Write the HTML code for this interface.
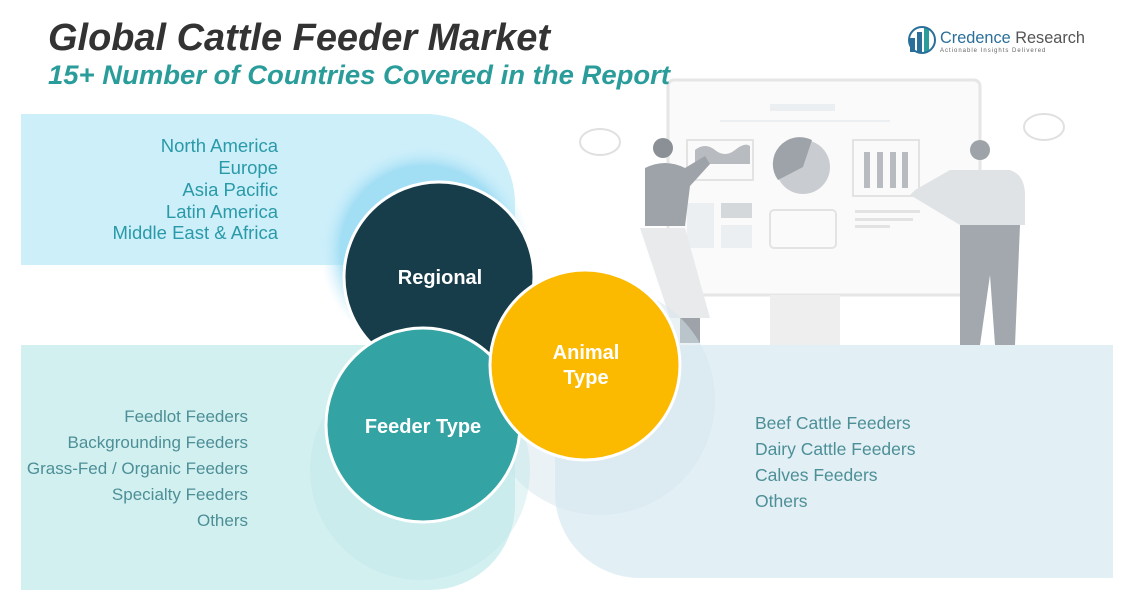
<!DOCTYPE html>
<html><head><meta charset="utf-8"><style>
html,body{margin:0;padding:0;background:#fff;}
body{width:1147px;height:601px;overflow:hidden;font-family:"Liberation Sans",sans-serif;}
</style></head><body>
<svg width="1147" height="601" viewBox="0 0 1147 601" xmlns="http://www.w3.org/2000/svg" font-family="Liberation Sans, sans-serif">
<defs>
<radialGradient id="g1" cx="0.5" cy="0.5" r="0.5"><stop offset="0.8" stop-color="#8fd6f2"/><stop offset="1" stop-color="#cdeffa" stop-opacity="0"/></radialGradient>
</defs>
<rect x="668" y="80" width="312" height="215" rx="6" fill="#fafafa" stroke="#e6e6e6" stroke-width="3"/>
<rect x="770" y="104" width="65" height="7" fill="#eceff1"/>
<rect x="720" y="120" width="170" height="2" fill="#eceff1"/>
<rect x="687" y="140" width="66" height="40" fill="none" stroke="#e3e3e3" stroke-width="2"/>
<path d="M695 150 q10-8 20 0 t20 0 t15 -4 v18 h-55z" fill="#b8bcc0"/>
<circle cx="803" cy="167" r="27" fill="#c9cdd1"/>
<path d="M803 167 L812 140 A27 27 0 0 0 778 180 Z" fill="#9da3a8"/>
<rect x="687" y="203" width="27" height="45" fill="#eceff1"/><rect x="721" y="203" width="31" height="15" fill="#d5d8db"/><rect x="721" y="225" width="31" height="23" fill="#eceff1"/>
<rect x="770" y="210" width="66" height="38" rx="4" fill="none" stroke="#e3e3e3" stroke-width="2"/>
<rect x="853" y="140" width="66" height="56" fill="none" stroke="#e3e3e3" stroke-width="2"/>
<rect x="864" y="152" width="6" height="36" fill="#b8bcc0"/><rect x="877" y="152" width="6" height="36" fill="#b8bcc0"/><rect x="890" y="152" width="6" height="36" fill="#b8bcc0"/><rect x="902" y="152" width="6" height="36" fill="#b8bcc0"/>
<rect x="855" y="210" width="65" height="3" fill="#e3e3e3"/><rect x="855" y="218" width="58" height="3" fill="#e3e3e3"/><rect x="855" y="225" width="35" height="3" fill="#e3e3e3"/>
<rect x="770" y="295" width="70" height="50" fill="#eeeeee"/>
<ellipse cx="600" cy="142" rx="20" ry="13" fill="none" stroke="#e0e0e0" stroke-width="2"/>
<ellipse cx="1044" cy="127" rx="20" ry="13" fill="none" stroke="#e0e0e0" stroke-width="2"/>
<circle cx="663" cy="148" r="10" fill="#8a9096"/>
<path d="M645 168 q20-10 40 0 l20-12 l5 8 l-20 22 l-5 40 h-40 z" fill="#9da3a8"/>
<path d="M640 228 h45 l25 90 h-40 z" fill="#e8eaeb"/>
<rect x="680" y="318" width="20" height="25" fill="#9da3a8"/>
<circle cx="980" cy="150" r="10" fill="#9da3a8"/>
<path d="M950 170 h60 q15 5 15 25 v30 h-65 l-50-30 l5-5 z" fill="#e0e3e5"/>
<path d="M960 225 h60 l-5 120 h-20 l-5-70 l-10 70 h-20 z" fill="#a2a8ad"/>
<path d="M21 114 H430 A90 90 0 0 1 515 200 V265 H21 Z" fill="#cdeffa"/>
<circle cx="425" cy="250" r="105" fill="url(#g1)" opacity="0.7"/>
<path d="M21 345 H515 V505 A85 85 0 0 1 430 590 H21 Z" fill="#d3f0f1"/>
<path d="M555 345 H1113 V578 H640 A85 85 0 0 1 555 493 Z" fill="#e2eff5"/>
<circle cx="600" cy="400" r="115" fill="#d6e6ee" opacity="0.5"/>
<circle cx="420" cy="470" r="110" fill="#bfe6e8" opacity="0.4"/>
<circle cx="439" cy="277" r="95" fill="#183d4a" stroke="#fff" stroke-width="3"/>
<circle cx="423" cy="425" r="97" fill="#33a3a3" stroke="#fff" stroke-width="3"/>
<circle cx="585" cy="365" r="95" fill="#fbb900" stroke="#fff" stroke-width="3"/>
<g fill="#fff" font-weight="bold" font-size="20" text-anchor="middle">
<text x="440" y="284">Regional</text>
<text x="423" y="433">Feeder Type</text>
<text x="586" y="359">Animal</text>
<text x="586" y="384">Type</text>
</g>
<g fill="#2a9aa8" font-size="18.5" text-anchor="end">
<text x="278" y="152">North America</text>
<text x="278" y="174">Europe</text>
<text x="278" y="196">Asia Pacific</text>
<text x="278" y="218">Latin America</text>
<text x="278" y="239">Middle East &amp; Africa</text>
</g>
<g fill="#4c8f96" font-size="17" text-anchor="end">
<text x="248" y="422">Feedlot Feeders</text>
<text x="248" y="448">Backgrounding Feeders</text>
<text x="248" y="474">Grass-Fed / Organic Feeders</text>
<text x="248" y="500">Specialty Feeders</text>
<text x="248" y="526">Others</text>
</g>
<g fill="#4c8f96" font-size="17.5">
<text x="755" y="429">Beef Cattle Feeders</text>
<text x="755" y="455">Dairy Cattle Feeders</text>
<text x="755" y="481">Calves Feeders</text>
<text x="755" y="507">Others</text>
</g>
<text x="48" y="50" font-size="38" font-weight="bold" font-style="italic" fill="#333" textLength="502" lengthAdjust="spacingAndGlyphs">Global Cattle Feeder Market</text>
<text x="48" y="84" font-size="27" font-weight="bold" font-style="italic" fill="#2a9d9a" textLength="622" lengthAdjust="spacingAndGlyphs">15+ Number of Countries Covered in the Report</text>
<rect x="910" y="38" width="5" height="14" fill="#2a6f9a"/><rect x="917" y="32" width="5" height="20" fill="#2a6f9a"/><rect x="924" y="28" width="5" height="24" fill="#2a9d9a"/>
<circle cx="922" cy="40" r="13" fill="none" stroke="#2a6f9a" stroke-width="2"/>
<text x="940" y="43" font-size="17" fill="#2a6f9a" textLength="145" lengthAdjust="spacingAndGlyphs">Credence <tspan fill="#555">Research</tspan></text>
<text x="940" y="52" font-size="6" fill="#666" letter-spacing="1">Actionable Insights Delivered</text>
</svg>
</body></html>
